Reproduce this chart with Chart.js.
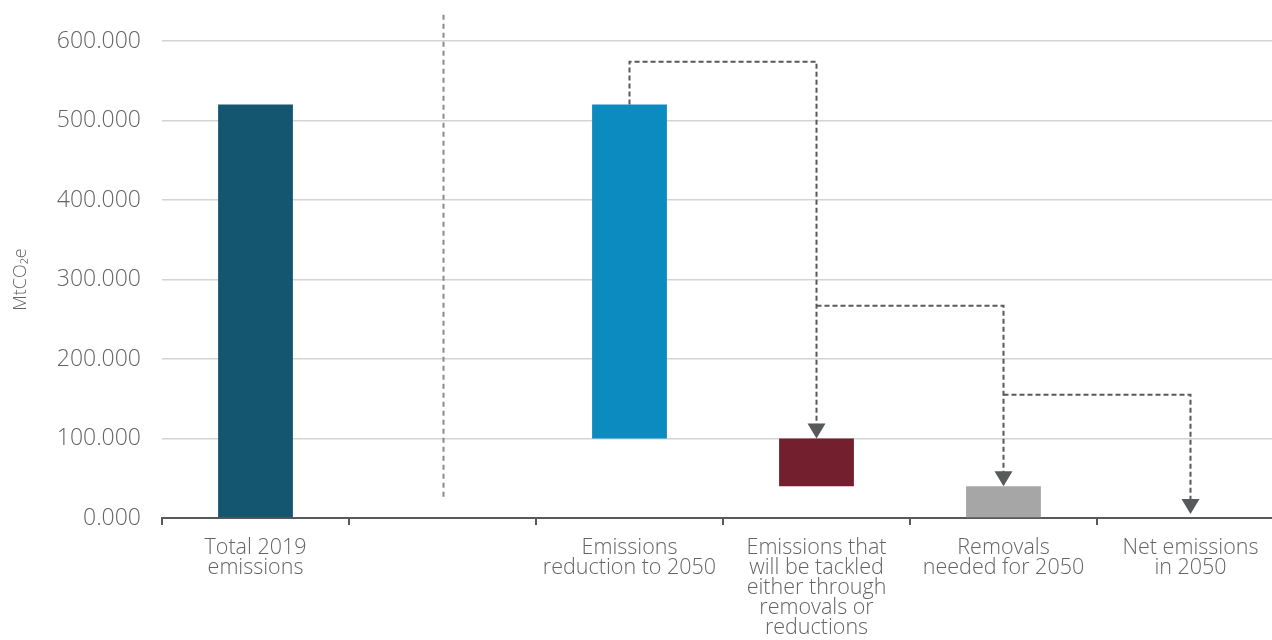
<!DOCTYPE html>
<html>
<head>
<meta charset="utf-8">
<script src="https://cdn.jsdelivr.net/npm/chart.js@4.4.1/dist/chart.umd.min.js"></script>
<style>
    html, body { margin: 0; padding: 0; background: #fff; overflow: hidden; }
    #wrap { width: 1284px; height: 640px; position: relative; }
</style>
</head>
<body>
<div id="wrap"><canvas id="chart"></canvas></div>
<script>
// categories (empty slot holds the divider line)
const categories = [
    ['Total 2019', 'emissions'],
    '',
    ['Emissions', 'reduction to 2050'],
    ['Emissions that', 'will be tackled', 'either through', 'removals or', 'reductions'],
    ['Removals', 'needed for 2050'],
    ['Net emissions', 'in 2050']
];
const barStart = [0, null, 100000, 40000, 0, 0];
const barEnd = [520000, null, 520000, 100000, 40000, 0];
const barColors = ['#14566f', '#ffffff', '#0b8bbf', '#731f2e', '#a6a6a6', '#a6a6a6'];

const yTicks = [0, 100000, 200000, 300000, 400000, 500000, 600000];

// dashed connectors between the steps
const connectorFrom = [2, 3, 4];
const connectorTo = [3, 4, 5];
const connectorStart = [520000, 267000, 155000];
const connectorLevel = [574000, 267000, 155000];

// vertical divider
const dividerCategory = 1;
const dividerRange = [22000, 633000];

const fontFamily = "'Open Sans', Lato, sans-serif";
const textColor = '#636466';

const stepPlugin = {
    id: 'steps',
    afterDatasetsDraw(chart) {
        const ctx = chart.ctx;
        const x = chart.scales.x;
        const y = chart.scales.y;

        // divider
        ctx.save();
        ctx.strokeStyle = '#8a8a8a';
        ctx.lineWidth = 2;
        ctx.setLineDash([5, 4]);
        const dx = Math.round(x.getPixelForValue(dividerCategory)) + 0.5;
        ctx.beginPath();
        ctx.moveTo(dx, y.getPixelForValue(dividerRange[1]));
        ctx.lineTo(dx, y.getPixelForValue(dividerRange[0]));
        ctx.stroke();
        ctx.restore();

        // connectors
        connectorFrom.forEach((from, i) => {
            const to = connectorTo[i];
            const x1 = x.getPixelForValue(from);
            const x2 = x.getPixelForValue(to);
            const yStart = y.getPixelForValue(connectorStart[i]);
            const yLevel = y.getPixelForValue(connectorLevel[i]);
            const yTip = y.getPixelForValue(barEnd[to]) - (barEnd[to] === 0 ? 4 : 0);
            const headH = 15;
            const headW = 9;

            ctx.save();
            ctx.strokeStyle = '#58595b';
            ctx.lineWidth = 2;
            ctx.setLineDash([5, 3]);
            ctx.beginPath();
            ctx.moveTo(x1, yStart);
            ctx.lineTo(x1, yLevel);
            ctx.lineTo(x2, yLevel);
            ctx.lineTo(x2, yTip - headH + 1);
            ctx.stroke();
            ctx.setLineDash([]);
            ctx.fillStyle = '#58595b';
            ctx.beginPath();
            ctx.moveTo(x2 - headW, yTip - headH);
            ctx.lineTo(x2 + headW, yTip - headH);
            ctx.lineTo(x2, yTip);
            ctx.closePath();
            ctx.fill();
            ctx.restore();
        });
    }
};

const ctx = document.getElementById('chart').getContext('2d');
new Chart(ctx, {
    type: 'bar',
    data: {
        labels: categories,
        datasets: [{
            data: barStart.map((s, i) => s === null ? null : [s, barEnd[i]]),
            backgroundColor: barColors,
            borderWidth: 0,
            barPercentage: 0.4,
            categoryPercentage: 1
        }]
    },
    options: {
        responsive: true,
        maintainAspectRatio: false,
        animation: false,
        layout: {
            padding: { top: 41, right: 0, bottom: 0, left: 0 }
        },
        plugins: {
            legend: { display: false },
            tooltip: { enabled: false }
        },
        scales: {
            x: {
                grid: {
                    offset: true,
                    drawOnChartArea: false,
                    drawTicks: true,
                    tickLength: 7,
                    color: '#58595b',
                    lineWidth: 2
                },
                border: { color: '#58595b', width: 2 },
                ticks: {
                    maxRotation: 0,
                    autoSkip: false,
                    padding: 13,
                    color: textColor,
                    font: { family: fontFamily, size: 21.5, weight: 300, lineHeight: 0.93 }
                },
                afterFit: s => { s.height = 122; }
            },
            y: {
                min: 0,
                max: 600000,
                afterBuildTicks: s => { s.ticks = yTicks.map(v => ({ value: v })); },
                grid: {
                    color: '#d4d4d4',
                    lineWidth: 1.5,
                    drawTicks: false
                },
                border: { display: false },
                ticks: {
                    padding: 21,
                    color: textColor,
                    font: { family: fontFamily, size: 23, weight: 300 },
                    callback: v => (v / 1000).toFixed(3)
                },
                title: {
                    display: true,
                    text: 'MtCO₂e',
                    color: textColor,
                    font: { family: fontFamily, size: 18, weight: 300 },
                    padding: { top: 10, bottom: 0 }
                },
                afterFit: s => { s.width = 162; }
            }
        }
    },
    plugins: [stepPlugin]
});
</script>
</body>
</html>
